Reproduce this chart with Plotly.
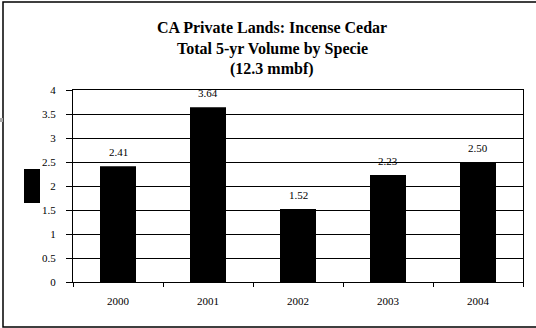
import plotly.graph_objects as go

years = ["2000", "2001", "2002", "2003", "2004"]
volumes = [2.41, 3.64, 1.52, 2.23, 2.50]
title_lines = ["CA Private Lands: Incense Cedar", "Total 5-yr Volume by Specie", "(12.3 mmbf)"]
y_ticks = [0, 0.5, 1, 1.5, 2, 2.5, 3, 3.5, 4]

W, H = 536, 328
L, R, T, B = 73, 13, 90, 46
pw, ph = W - L - R, H - T - B

def px_x(x):
    return (x - L) / pw

def px_y(y):
    return (H - B - y) / ph

FONT = "Liberation Serif"

fig = go.Figure()
fig.add_trace(go.Bar(x=years, y=volumes, marker=dict(color="black", line=dict(width=0)), width=0.4,
                     hoverinfo="skip"))

annotations = []
for i, v in enumerate(volumes):
    annotations.append(dict(x=i, y=v, xref="x", yref="y", text=f"{v:.2f}", showarrow=False, yshift=14,
                            yanchor="middle", font=dict(family=FONT, size=11, color="black")))
for line, py in zip(title_lines, [27, 48.5, 69]):
    annotations.append(dict(x=px_x(272), y=px_y(py), xref="paper", yref="paper", text=f"<b>{line}</b>",
                            showarrow=False, xanchor="center", yanchor="middle",
                            font=dict(family=FONT, size=16, color="black")))

shapes = [
    dict(type="rect", xref="paper", yref="paper", x0=px_x(3), x1=px_x(545), y0=px_y(327), y1=px_y(2),
         line=dict(color="black", width=1.5), fillcolor="rgba(0,0,0,0)", layer="below"),
    dict(type="rect", xref="paper", yref="paper", x0=px_x(24), x1=px_x(40), y0=px_y(203), y1=px_y(169),
         line=dict(width=0), fillcolor="black"),
    dict(type="rect", xref="paper", yref="paper", x0=px_x(0), x1=px_x(3), y0=px_y(122), y1=px_y(118),
         line=dict(width=0), fillcolor="#aaaaaa"),
]

fig.update_layout(
    width=W, height=H,
    margin=dict(l=L, r=R, t=T, b=B, pad=0),
    paper_bgcolor="white", plot_bgcolor="white",
    showlegend=False,
    annotations=annotations,
    shapes=shapes,
    font=dict(family=FONT, size=11, color="black"),
)
fig.update_xaxes(type="category", range=[-0.5, len(years) - 0.5],
                 showline=True, linecolor="black", linewidth=1, mirror=True,
                 ticks="outside", ticklen=4, tickcolor="black", tickson="boundaries",
                 showgrid=False, ticklabelstandoff=9, tickangle=0,
                 tickfont=dict(family=FONT, size=11, color="black"))
fig.update_yaxes(range=[0, 4], tickvals=y_ticks, ticktext=[f"{t:g}" for t in y_ticks],
                 showline=True, linecolor="black", linewidth=1, mirror=True,
                 ticks="outside", ticklen=6, tickcolor="black",
                 showgrid=True, gridcolor="black", gridwidth=1, zeroline=False,
                 ticklabelstandoff=8,
                 tickfont=dict(family=FONT, size=11, color="black"))

fig.write_html("out.html", config={"displayModeBar": False},
               post_script="document.body.style.margin='0';")
